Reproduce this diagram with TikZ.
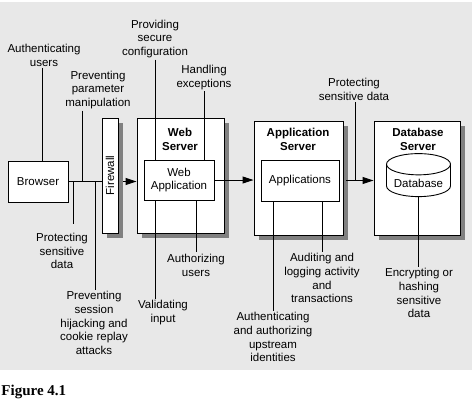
\documentclass[tikz,border=0pt]{standalone}
\usepackage{fontspec}
\setsansfont{Liberation Sans}
\newfontfamily\figfont{Liberation Serif}
\usetikzlibrary{arrows.meta,shadows,shapes.geometric}
\definecolor{bggray}{RGB}{232,232,232}
\definecolor{shadowgray}{RGB}{128,128,128}

\begin{document}
\begin{tikzpicture}[x=1pt,y=-1pt,line width=0.9pt,>={Triangle[length=11pt,width=7pt]},
  every node/.style={font=\sffamily\fontsize{11.5}{13.8}\selectfont},
  plain box/.style={draw,fill=white,inner sep=0pt,align=center},
  server box/.style={plain box,drop shadow={shadow xshift=4.5pt,shadow yshift=-4.5pt,fill=shadowgray,opacity=1}},
  title/.style={font=\sffamily\bfseries\fontsize{11.5}{13.8}\selectfont,align=center},
  note/.style={align=center,inner sep=1pt}]
  \useasboundingbox (0,0) rectangle (474,402);
  \fill[bggray] (0,2) rectangle (472,370);

  % boxes
  \node[plain box,minimum width=60pt,minimum height=41pt] (browser) at (38,181.5) {Browser};
  \node[server box,minimum width=16pt,minimum height=115pt] (firewall) at (110,175.5) {\rotatebox{90}{Firewall}};
  \node[server box,minimum width=87pt,minimum height=115pt] (websrv) at (180.5,175.5) {};
  \node[title] (websrvt) at (180,139) {Web\\Server};
  \node[plain box,minimum width=70pt,minimum height=40pt] (webapp) at (179,180) {Web\\Application};
  \node[server box,minimum width=89pt,minimum height=114pt] (appsrv) at (298.5,178) {};
  \node[title] (appsrvt) at (298,139.5) {Application\\Server};
  \node[plain box,minimum width=78pt,minimum height=41pt] (apps) at (300,180.5) {Applications};
  \node[server box,minimum width=86pt,minimum height=114pt] (dbsrv) at (417,178) {};
  \node[title] (dbsrvt) at (418,139.5) {Database\\Server};
  \node[cylinder,shape border rotate=90,draw,fill=white,aspect=0.38,minimum width=64pt,minimum height=43pt] (db) at (418.5,183) {Database};

  % notes
  \node[note] (lauth) at (44,55) {Authenticating\\users};
  \node[note] (lparam) at (98,90) {Preventing\\parameter\\manipulation};
  \node[note] (lprotb) at (62,251) {Protecting\\sensitive\\data};
  \node[note] (lsess) at (94,323) {Preventing\\session\\hijacking and\\cookie replay\\attacks};
  \node[note] (lconf) at (155,39) {Providing\\secure\\configuration};
  \node[note] (lexc) at (204,77.5) {Handling\\exceptions};
  \node[note] (lvalid) at (163,312.5) {Validating\\input};
  \node[note] (lauthz) at (196,265) {Authorizing\\users};
  \node[note] (lupstr) at (273,337) {Authenticating\\and authorizing\\upstream\\identities};
  \node[note] (laudit) at (322,278) {Auditing and\\logging activity\\and\\transactions};
  \node[note] (lprotd) at (354,89.5) {Protecting\\sensitive data};
  \node[note] (lenc) at (419,293) {Encrypting or\\hashing\\sensitive\\data};

  \coordinate (j1) at (73,181.5);
  \coordinate (j2) at (82,181.5);
  \coordinate (j3) at (95,181.5);
  \coordinate (j4) at (355,180.5);

  % flow
  \draw (browser.east) -- (browser.east -| firewall.west);
  \draw[->,shorten <=5pt] (browser.east -| firewall.east) -- (browser.east -| websrv.west);
  \draw[->] (webapp.east) -- (webapp.east -| appsrv.west);
  \draw[->,shorten <=7pt] (apps.east) -- (apps.east -| dbsrv.west);

  % note lines
  \draw ([xshift=-2pt]lauth.south) -- ([xshift=-2pt]lauth.south |- browser.north);
  \draw (lparam.south -| j2) -- (j2);
  \draw[shorten >=8pt] (j1) -- (j1 |- lprotb.north);
  \draw (j3) -- (j3 |- lsess.north);
  \draw (lconf.south) -- (lconf.south |- webapp.north);
  \draw (lexc.south) -- (lexc.south |- webapp.north);
  \draw ([xshift=-8pt]lvalid.north |- webapp.south) -- ([xshift=-8pt]lvalid.north);
  \draw (lauthz.north |- webapp.south) -- (lauthz.north);
  \draw (lupstr.north |- apps.south) -- (lupstr.north);
  \draw (laudit.north |- apps.south) -- (laudit.north);
  \draw (lprotd.south -| j4) -- (j4);
  \draw (db.bottom) -- (db.bottom |- lenc.north);

  \node[anchor=base west,inner sep=0pt,font=\figfont\bfseries\fontsize{15}{18}\selectfont] (fig) at (1,395) {Figure 4.1};
\end{tikzpicture}
\end{document}
